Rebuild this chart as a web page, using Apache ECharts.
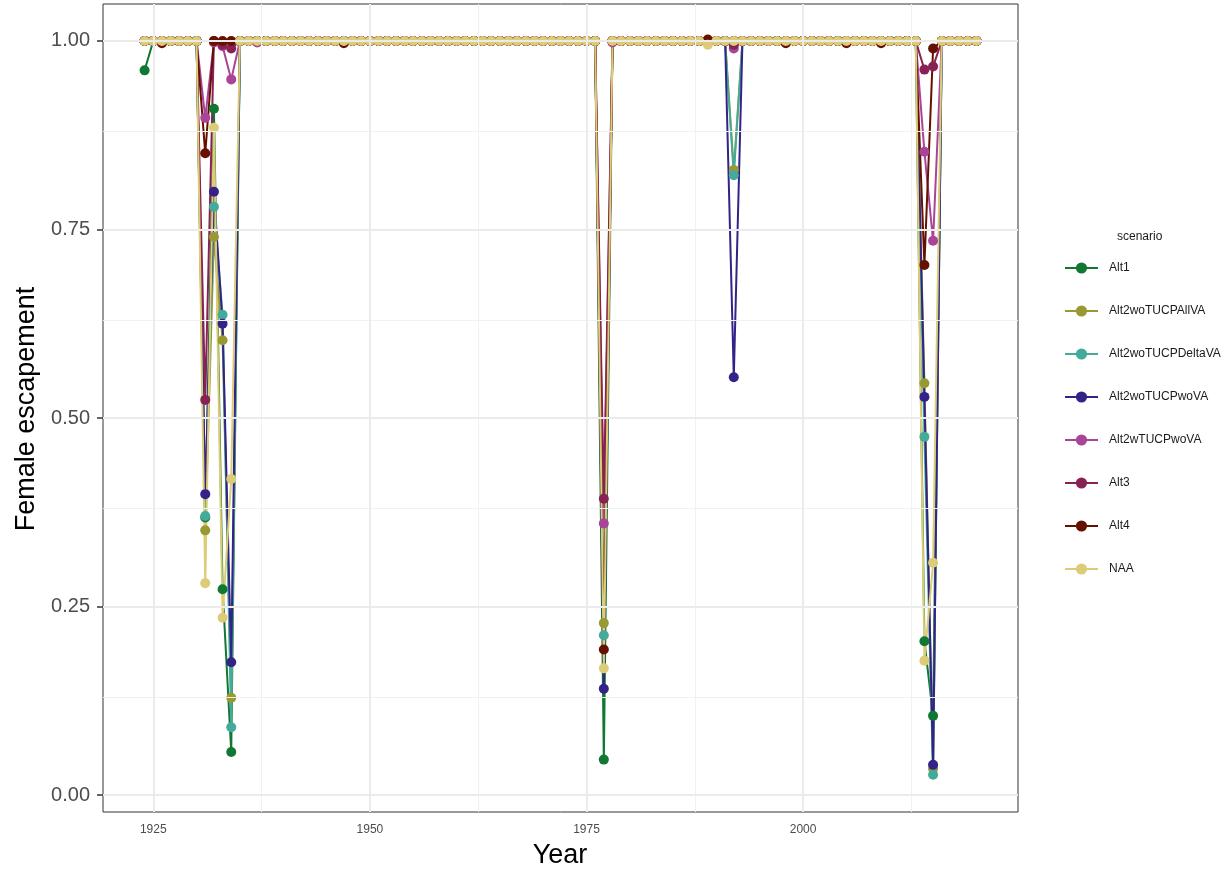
<!DOCTYPE html>
<html>
<head>
<meta charset="utf-8">
<script src="https://cdn.jsdelivr.net/npm/echarts@6/dist/echarts.min.js"></script>
<style>
html,body{margin:0;padding:0;background:#fff;}
#chart{width:1232px;height:873px;}
</style>
</head>
<body>
<div id="chart"></div>
<script>
// Years 1924..2020
const years = [
  1924,1925,1926,1927,1928,1929,1930,1931,1932,1933,
  1934,1935,1936,1937,1938,1939,1940,1941,1942,1943,
  1944,1945,1946,1947,1948,1949,1950,1951,1952,1953,
  1954,1955,1956,1957,1958,1959,1960,1961,1962,1963,
  1964,1965,1966,1967,1968,1969,1970,1971,1972,1973,
  1974,1975,1976,1977,1978,1979,1980,1981,1982,1983,
  1984,1985,1986,1987,1988,1989,1990,1991,1992,1993,
  1994,1995,1996,1997,1998,1999,2000,2001,2002,2003,
  2004,2005,2006,2007,2008,2009,2010,2011,2012,2013,
  2014,2015,2016,2017,2018,2019,2020
];
const scenarios = ["Alt1","Alt2woTUCPAllVA","Alt2woTUCPDeltaVA","Alt2woTUCPwoVA","Alt2wTUCPwoVA","Alt3","Alt4","NAA"];
const colors = ["#117733","#999933","#44AA99","#332288","#AA4499","#882255","#661100","#DDCC77"];

const alt1 = [
  0.961,1,1,1,1,1,1,0.368,0.91,0.273,
  0.057,1,1,1,1,1,1,1,1,1,
  1,1,1,1,1,1,1,1,1,1,
  1,1,1,1,1,1,1,1,1,1,
  1,1,1,1,1,1,1,1,1,1,
  1,1,1,0.047,1,1,1,1,1,1,
  1,1,1,1,1,1,1,1,1,1,
  1,1,1,1,1,1,1,1,1,1,
  1,1,1,1,1,1,1,1,1,1,
  0.204,0.105,1,1,1,1,1
];
const alt2AllVA = [
  1,1,1,1,1,1,1,0.351,0.74,0.603,
  0.129,1,1,1,1,1,1,1,1,1,
  1,1,1,1,1,1,1,1,1,1,
  1,1,1,1,1,1,1,1,1,1,
  1,1,1,1,1,1,1,1,1,1,
  1,1,1,0.228,1,1,1,1,1,1,
  1,1,1,1,1,1,1,1,0.829,1,
  1,1,1,1,1,1,1,1,1,1,
  1,1,1,1,1,1,1,1,1,1,
  0.546,0.035,1,1,1,1,1
];
const alt2DeltaVA = [
  1,1,1,1,1,1,1,0.37,0.78,0.637,
  0.09,1,1,1,1,1,1,1,1,1,
  1,1,1,1,1,1,1,1,1,1,
  1,1,1,1,1,1,1,1,1,1,
  1,1,1,1,1,1,1,1,1,1,
  1,1,1,0.212,1,1,1,1,1,1,
  1,1,1,1,1,1,1,1,0.822,1,
  1,1,1,1,1,1,1,1,1,1,
  1,1,1,1,1,1,1,1,1,1,
  0.475,0.027,1,1,1,1,1
];
const alt2woVA = [
  1,1,1,1,1,1,1,0.399,0.80,0.625,
  0.176,1,1,1,1,1,1,1,1,1,
  1,1,1,1,1,1,1,1,1,1,
  1,1,1,1,1,1,1,1,1,1,
  1,1,1,1,1,1,1,1,1,1,
  1,1,1,0.141,1,1,1,1,1,1,
  1,1,1,1,1,1,1,1,0.554,1,
  1,1,1,1,1,1,1,1,1,1,
  1,1,1,1,1,1,1,1,1,1,
  0.528,0.040,1,1,1,1,1
];
const alt2wTUCP = [
  1,1,1,1,1,1,1,0.898,0.998,0.993,
  0.949,1,1,0.998,1,1,1,1,1,1,
  1,1,1,1,1,1,1,1,1,1,
  1,1,1,1,1,1,1,1,1,1,
  1,1,1,1,1,1,1,1,1,1,
  1,1,1,0.36,0.998,1,1,1,1,1,
  1,1,1,1,1,1,1,1,0.99,1,
  1,1,1,1,1,1,1,1,1,1,
  1,1,1,1,1,1,1,1,1,1,
  0.853,0.735,1,1,1,1,1
];
const alt3 = [
  1,1,1,1,1,1,1,0.524,1,0.995,
  0.99,1,1,1,1,1,1,1,1,1,
  1,1,1,1,1,1,1,1,1,1,
  1,1,1,1,1,1,1,1,1,1,
  1,1,1,1,1,1,1,1,1,1,
  1,1,1,0.393,1,1,1,1,1,1,
  1,1,1,1,1,1,1,1,0.995,1,
  1,1,1,1,1,1,1,1,1,1,
  1,1,1,1,1,1,1,1,1,1,
  0.962,0.966,1,1,1,1,1
];
const alt4 = [
  1,1,0.997,1,1,1,1,0.851,1,1,
  1,1,1,1,1,1,1,1,1,1,
  1,1,1,0.997,1,1,1,1,1,1,
  1,1,1,1,1,1,1,1,1,1,
  1,1,1,1,1,1,1,1,1,1,
  1,1,1,0.193,1,1,1,1,1,1,
  1,1,1,1,1,1.002,1,1,1,1,
  1,1,1,1,0.997,1,1,1,1,1,
  1,0.997,1,1,1,0.997,1,1,1,1,
  0.703,0.99,1,1,1,1,1
];
const naa = [
  1,1,1,1,1,1,1,0.281,0.885,0.235,
  0.419,1,1,1,1,1,1,1,1,1,
  1,1,1,1,1,1,1,1,1,1,
  1,1,1,1,1,1,1,1,1,1,
  1,1,1,1,1,1,1,1,1,1,
  1,1,1,0.168,1,1,1,1,1,1,
  1,1,1,1,1,0.995,1,1,1,1,
  1,1,1,1,1,1,1,1,1,1,
  1,1,1,1,1,1,1,1,1,1,
  0.178,0.308,1,1,1,1,1
];
const seriesValues = [alt1, alt2AllVA, alt2DeltaVA, alt2woVA, alt2wTUCP, alt3, alt4, naa];

const xMajor = [1925, 1950, 1975, 2000];
const xMinor = [1937.5, 1962.5, 1987.5, 2012.5];
const yMajor = [0, 0.25, 0.5, 0.75, 1];
const yMinor = [0.125, 0.375, 0.625, 0.875];

const chart = echarts.init(document.getElementById('chart'), null, {renderer: 'canvas'});

const pairs = v => years.map((y, i) => [y, v[i]]);

const series = [];
// gridlines through library axes
series.push({
  type: 'line', data: [], silent: true, z: 0,
  markLine: {
    silent: true, symbol: ['none','none'], label: {show: false}, animation: false,
    data: [
      ...xMinor.map(v => ({xAxis: v, lineStyle: {color: '#F1F1F1', width: 1, type: 'solid'}})),
      ...yMinor.map(v => ({yAxis: v, lineStyle: {color: '#F1F1F1', width: 1, type: 'solid'}})),
      ...xMajor.map(v => ({xAxis: v, lineStyle: {color: '#EBEBEB', width: 2, type: 'solid'}})),
      ...yMajor.map(v => ({yAxis: v, lineStyle: {color: '#EBEBEB', width: 2, type: 'solid'}}))
    ]
  }
});
scenarios.forEach((name, k) => {
  series.push({
    name, type: 'line', data: pairs(seriesValues[k]),
    symbol: 'circle', symbolSize: 10, showSymbol: false,
    lineStyle: {width: 2, color: colors[k]}, itemStyle: {color: colors[k]},
    z: 2, animation: false
  });
});
scenarios.forEach((name, k) => {
  series.push({
    name, type: 'scatter', data: pairs(seriesValues[k]),
    symbol: 'circle', symbolSize: 10,
    itemStyle: {color: colors[k], opacity: 1}, z: 3, animation: false
  });
});

chart.setOption({
  animation: false,
  backgroundColor: '#ffffff',
  textStyle: {fontFamily: 'Liberation Sans'},
  grid: {left: 103, top: 4, width: 915, height: 808, show: true, borderColor: '#333333', borderWidth: 1, backgroundColor: '#ffffff', containLabel: false},
  xAxis: {
    type: 'value', min: 1919.2, max: 2024.8,
    axisLine: {show: false},
    axisTick: {show: true, length: 6, lineStyle: {color: '#333333', width: 1.5}, customValues: xMajor},
    axisLabel: {fontSize: 12, color: '#4D4D4D', margin: 12, customValues: xMajor, formatter: v => String(v)},
    splitLine: {show: false}
  },
  yAxis: {
    type: 'value', min: -0.0225, max: 1.049,
    axisLine: {show: false},
    axisTick: {show: true, length: 6, lineStyle: {color: '#333333', width: 1.5}, customValues: yMajor},
    axisLabel: {fontSize: 20, color: '#4D4D4D', margin: 13, customValues: yMajor, formatter: v => v.toFixed(2)},
    splitLine: {show: false}
  },
  legend: {
    orient: 'vertical', left: 1064, top: 262, padding: 0,
    itemWidth: 33, itemHeight: 14, itemGap: 31,
    data: scenarios,
    textStyle: {fontSize: 12, color: '#1A1A1A', fontFamily: 'Liberation Sans', padding: [0, 0, 0, 6]},
    selectedMode: false
  },
  graphic: [
    {type: 'text', left: 1117, top: 231, style: {text: 'scenario', fontSize: 12, fill: '#1A1A1A', fontFamily: 'Liberation Sans'}},
    {type: 'text', x: 560, y: 856, style: {text: 'Year', fontSize: 27, fill: '#000', fontFamily: 'Liberation Sans', align: 'center', verticalAlign: 'middle'}},
    {type: 'text', x: 27, y: 409, rotation: Math.PI/2, style: {text: 'Female escapement', fontSize: 27, fill: '#000', fontFamily: 'Liberation Sans', align: 'center', verticalAlign: 'middle'}}
  ],
  series
});
</script>
</body>
</html>
